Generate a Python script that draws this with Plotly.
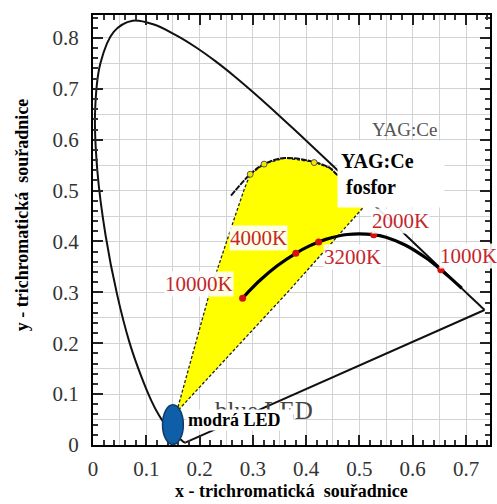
import plotly.graph_objects as go

# ---------------- data ----------------
# CIE 1931 spectral locus (horseshoe), 380 nm ... 700 nm
locus_x = [0.1741, 0.1733, 0.1714, 0.1689, 0.1644, 0.1566, 0.1440, 0.1355, 0.1241, 0.1096,
           0.0913, 0.0687, 0.0454, 0.0235, 0.0082, 0.0039, 0.0139, 0.0389, 0.0743, 0.1142,
           0.1547, 0.1929, 0.2296, 0.2658, 0.3016, 0.3373, 0.3731, 0.4087, 0.4441, 0.4788,
           0.5125, 0.5448, 0.5752, 0.6029, 0.6270, 0.6482, 0.6658, 0.6915, 0.7079, 0.7190,
           0.7260, 0.7300, 0.7334, 0.7347]
locus_y = [0.0050, 0.0048, 0.0051, 0.0069, 0.0109, 0.0177, 0.0297, 0.0399, 0.0578, 0.0868,
           0.1327, 0.2007, 0.2950, 0.4127, 0.5384, 0.6548, 0.7502, 0.8120, 0.8338, 0.8262,
           0.8059, 0.7816, 0.7543, 0.7243, 0.6923, 0.6589, 0.6245, 0.5896, 0.5547, 0.5202,
           0.4866, 0.4544, 0.4242, 0.3965, 0.3725, 0.3514, 0.3340, 0.3083, 0.2920, 0.2809,
           0.2740, 0.2700, 0.2666, 0.2653]

# purple line (closing the horseshoe)
purple_x = [0.7347, 0.1741]
purple_y = [0.2653, 0.0050]

# Planckian (black body) locus
planck_x = [0.2807, 0.2952, 0.3135, 0.3451, 0.3805, 0.4053, 0.4234, 0.4369, 0.4770,
            0.5267, 0.5497, 0.5857, 0.6251, 0.6528, 0.6720, 0.6920]
planck_y = [0.2884, 0.3048, 0.3237, 0.3516, 0.3768, 0.3907, 0.3990, 0.4041, 0.4137,
            0.4133, 0.4083, 0.3931, 0.3674, 0.3444, 0.3270, 0.3080]

# labelled colour temperatures
temp_labels = ["10000K", "4000K", "3200K", "2000K", "1000K"]
temp_x = [0.2807, 0.3805, 0.4234, 0.5267, 0.6528]
temp_y = [0.2884, 0.3768, 0.3990, 0.4133, 0.3444]

# YAG:Ce phosphor emission curve and its marked points
yag_curve_x = [0.259, 0.295, 0.321, 0.360, 0.415, 0.445, 0.457, 0.470]
yag_curve_y = [0.490, 0.532, 0.552, 0.564, 0.556, 0.544, 0.532, 0.524]
yag_dot_x = [0.295, 0.321, 0.415]
yag_dot_y = [0.532, 0.552, 0.555]

# region reachable by blue LED + YAG:Ce phosphor (yellow fan)
region_x = [0.157, 0.219, 0.268, 0.285, 0.295, 0.321, 0.360, 0.415, 0.445, 0.457,
            0.470, 0.495, 0.509, 0.365, 0.157]
region_y = [0.065, 0.300, 0.454, 0.506, 0.532, 0.552, 0.564, 0.556, 0.544, 0.532,
            0.524, 0.504, 0.469, 0.300, 0.065]

# blue LED chromaticity
led_x = 0.150
led_y = 0.040

# tick labels
x_ticks = [0, 0.1, 0.2, 0.3, 0.4, 0.5, 0.6, 0.7]
x_tick_text = ["0", "0.1", "0.2", "0.3", "0.4", "0.5", "0.6", "0.7"]
y_ticks = [0, 0.1, 0.2, 0.3, 0.4, 0.5, 0.6, 0.7, 0.8]
y_tick_text = ["0", "0.1", "0.2", "0.3", "0.4", "0.5", "0.6", "0.7", "0.8"]

# ---------------- styles ----------------
SERIF = "Liberation Serif, Times New Roman, serif"
RED = "#c4262c"
label_shifts = [(-44, 14), (-37, 15), (34, -15), (27, 14), (28, 14)]
led_rx, led_ry = 0.0195, 0.039

fig = go.Figure()

# dummy trace to activate the overlay grid axes
fig.add_trace(go.Scatter(x=[None], y=[None], xaxis="x2", yaxis="y2",
                         showlegend=False, hoverinfo="skip"))

fig.add_trace(go.Scatter(x=region_x, y=region_y, mode="lines", fill="toself",
                         fillcolor="#ffff00",
                         line=dict(color="#222", width=1.3, dash="3px,2px"),
                         showlegend=False, hoverinfo="skip"))

fig.add_trace(go.Scatter(x=locus_x, y=locus_y, mode="lines",
                         line=dict(color="#111", width=2, shape="spline", smoothing=1.0),
                         showlegend=False))
fig.add_trace(go.Scatter(x=purple_x, y=purple_y, mode="lines",
                         line=dict(color="#111", width=2), showlegend=False))

fig.add_trace(go.Scatter(x=yag_curve_x, y=yag_curve_y, mode="lines",
                         line=dict(color="#111", width=2, shape="spline", dash="6px,1px"),
                         showlegend=False))
fig.add_trace(go.Scatter(x=yag_dot_x, y=yag_dot_y, mode="markers",
                         marker=dict(size=6, color="#f2e600",
                                     line=dict(color="#555", width=1)),
                         showlegend=False))

fig.add_trace(go.Scatter(x=planck_x, y=planck_y, mode="lines",
                         line=dict(color="#000", width=3.2, shape="spline"),
                         showlegend=False))
fig.add_trace(go.Scatter(x=temp_x, y=temp_y, mode="markers",
                         marker=dict(size=7, color="#d40f0f"),
                         showlegend=False))

# blue LED ellipse
fig.add_shape(type="circle", xref="x", yref="y",
              x0=led_x - led_rx, x1=led_x + led_rx,
              y0=led_y - led_ry, y1=led_y + led_ry,
              fillcolor="#0f5ea8", line=dict(color="#123a66", width=1.5),
              layer="above")

annotations = []
for t, x, y, (dx, dy) in zip(temp_labels, temp_x, temp_y, label_shifts):
    annotations.append(dict(x=x, y=y, xref="x", yref="y", text=t, showarrow=False,
                            xshift=dx, yshift=dy, xanchor="center", yanchor="middle",
                            font=dict(family=SERIF, size=21, color=RED),
                            bgcolor="rgba(255,255,255,0.9)", borderpad=0))

# YAG:Ce labels
yag_box_x, yag_box_y = 0.457, 0.533
annotations.append(dict(x=yag_box_x, y=yag_box_y, xref="x", yref="y", text="YAG:Ce",
                        showarrow=False, xanchor="center", yanchor="middle",
                        xshift=68, yshift=44,
                        font=dict(family=SERIF, size=19, color="#555")))
annotations.append(dict(x=yag_box_x, y=yag_box_y, xref="x", yref="y",
                        text="<b>YAG:Ce</b><br><b>&nbsp;fosfor</b>",
                        showarrow=False, xanchor="left", yanchor="middle",
                        align="left", width=100, height=60, borderpad=3,
                        bgcolor="white",
                        font=dict(family=SERIF, size=20, color="black")))

# blue LED labels
led_box_x, led_box_y = 0.175, 0.050
annotations.append(dict(x=led_box_x, y=led_box_y, xref="x", yref="y", text="blue LED",
                        showarrow=False, xanchor="center", yanchor="middle",
                        xshift=78, yshift=9,
                        font=dict(family=SERIF, size=25, color="#444")))
annotations.append(dict(x=led_box_x, y=led_box_y, xref="x", yref="y",
                        text="<b>modrá LED</b>",
                        showarrow=False, xanchor="left", yanchor="middle",
                        align="left", width=104, height=18, borderpad=1,
                        bgcolor="white",
                        font=dict(family=SERIF, size=18, color="black")))

# axis titles
annotations.append(dict(x=0.5, y=-0.106, xref="paper", yref="paper",
                        text="<b>x - trichromatická  souřadnice</b>", showarrow=False,
                        xanchor="center", yanchor="middle",
                        font=dict(family=SERIF, size=18, color="black")))
annotations.append(dict(x=-0.178, y=0.535, xref="paper", yref="paper",
                        text="<b>y - trichromatická  souřadnice</b>", showarrow=False,
                        textangle=-90, xanchor="center", yanchor="middle",
                        font=dict(family=SERIF, size=18, color="black")))

axis_common = dict(showgrid=False, zeroline=False, showline=True, linewidth=2,
                   linecolor="black", mirror="allticks", ticks="inside",
                   ticklen=10, tickwidth=2, tickcolor="#222",
                   tickfont=dict(family=SERIF, size=21, color="#333"),
                   minor=dict(dtick=0.02, ticks="inside", ticklen=5, tickwidth=1.5,
                              tickcolor="#333", showgrid=False))

grid_common = dict(showgrid=True, gridcolor="#d3d3d3", gridwidth=1, dtick=0.05,
                   tick0=0, showticklabels=False, ticks="", showline=False,
                   zeroline=False)

fig.update_layout(
    width=497, height=504,
    margin=dict(l=93, r=5, t=15, b=59),
    paper_bgcolor="white", plot_bgcolor="white",
    xaxis=dict(range=[0, 0.745], tickvals=x_ticks, ticktext=x_tick_text,
               ticklabelstandoff=4, **axis_common),
    yaxis=dict(range=[0, 0.845], tickvals=y_ticks, ticktext=y_tick_text,
               ticklabelstandoff=8, **axis_common),
    xaxis2=dict(range=[0, 0.745], overlaying="x", anchor="y", **grid_common),
    yaxis2=dict(range=[0, 0.845], overlaying="y", anchor="x", **grid_common),
    annotations=annotations,
    showlegend=False,
)

fig.write_html("out.html", config={"displayModeBar": False},
               post_script="document.body.style.margin='0';document.body.style.padding='0';")
